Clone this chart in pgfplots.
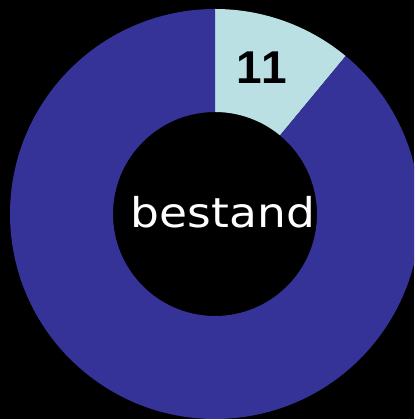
\documentclass[border=0pt]{standalone}
\usepackage{pgfplots}
\usepackage{pgfplotstable}
\usepackage{fontspec}
\usetikzlibrary{calc}
\setmainfont[Kerning=Off]{Liberation Sans}
\newfontfamily\thinfont{DejaVu Sans}
\pgfplotsset{compat=1.18}
\definecolor{darkslice}{RGB}{53,51,152}
\definecolor{lightslice}{RGB}{186,224,227}

% share of each slice, in percent
\pgfplotstableread{
part value
bestand 11
rest 89
}\slices

\begin{document}
\begin{tikzpicture}
\pgfplotstablegetelem{0}{value}\of\slices \let\va\pgfplotsretval
\pgfmathsetmacro{\aend}{90-3.6*\va}
\begin{axis}[
    x=1pt, y=1pt,
    xmin=0, xmax=414, ymin=0, ymax=419,
    hide axis,
    clip=true,
]
\fill[black] (rel axis cs:0,0) rectangle (rel axis cs:1,1);
% light slice
\fill[lightslice] (axis cs:215,205) ++(90:205pt) arc[start angle=90, end angle=\aend, radius=205pt]
    -- ($(axis cs:215,205)+(\aend:102pt)$) arc[start angle=\aend, end angle=90, radius=102pt] -- cycle;
% dark slice
\fill[darkslice] (axis cs:215,205) ++(\aend:205pt) arc[start angle=\aend, end angle=-270, radius=205pt]
    -- ($(axis cs:215,205)+(-270:102pt)$) arc[start angle=-270, end angle=\aend, radius=102pt] -- cycle;
\node[font=\fontsize{46}{46}\selectfont\bfseries, text=black] at (axis cs:262,351) {\va};
\node[font=\thinfont\fontsize{41}{41}\selectfont, text=white, xscale=1.11] at (axis cs:223,207) {bestand};
\end{axis}
\end{tikzpicture}
\end{document}
